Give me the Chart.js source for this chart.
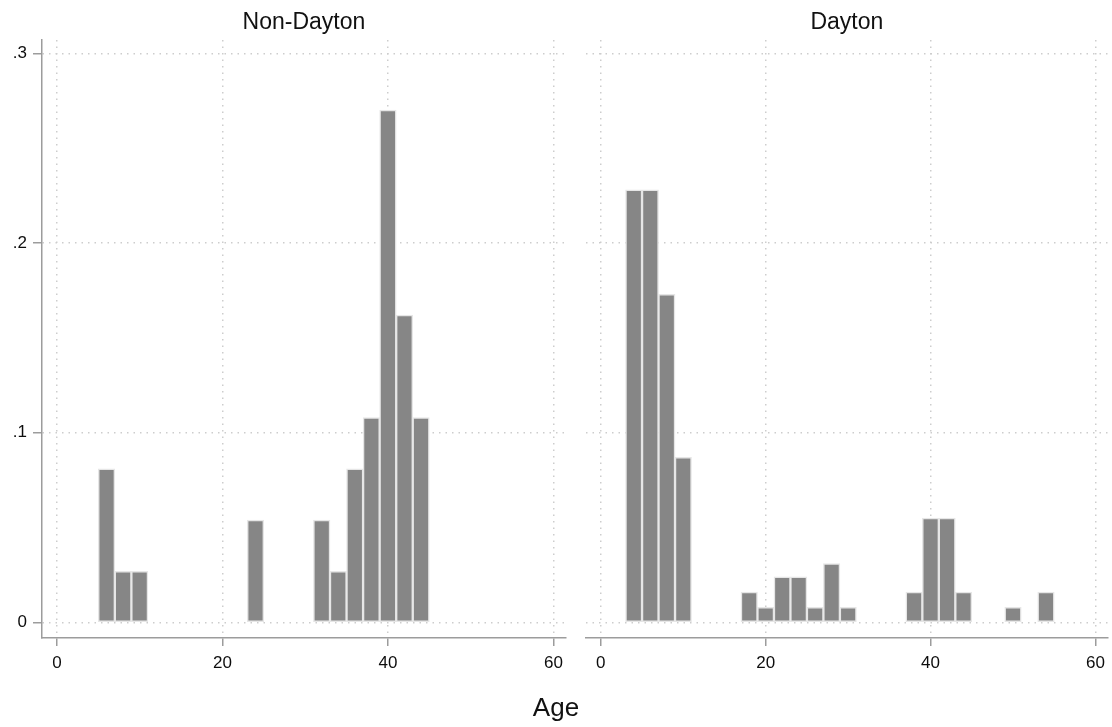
<!DOCTYPE html>
<html>
<head>
<meta charset="utf-8">
<script src="https://cdn.jsdelivr.net/npm/chart.js@4/dist/chart.umd.min.js"></script>
<style>
  body { margin: 0; background: #fff; }
  #wrap { position: relative; width: 1112px; height: 727px; }
  #left { position: absolute; left: 0; top: 0; }
  #right { position: absolute; left: 570px; top: 0; }
  #xtitle {
    position: absolute; left: 0; width: 1112px; top: 692px;
    text-align: center; font: 26px "Liberation Sans", Arial, sans-serif; color: #111;
  }
</style>
</head>
<body>
<div id="wrap">
  <canvas id="left" width="570" height="727"></canvas>
  <canvas id="right" width="542" height="727"></canvas>
  <div id="xtitle">Age</div>
</div>
<script>
const xTickValues = [0, 20, 40, 60];
const yTickValues = [0, 0.1, 0.2, 0.3];
const yTickLabels = ['0', '.1', '.2', '.3'];

// bin centres (bins are 2 years wide) and fraction per bin
const nonDaytonAges = [6, 8, 10, 24, 32, 34, 36, 38, 40, 42, 44];
const nonDaytonFraction = [0.081, 0.027, 0.027, 0.054, 0.054, 0.027, 0.081, 0.108, 0.270, 0.162, 0.108];

const daytonAges = [4, 6, 8, 10, 18, 20, 22, 24, 26, 28, 30, 38, 40, 42, 44, 50, 54];
const daytonFraction = [0.228, 0.228, 0.173, 0.087, 0.016, 0.008, 0.024, 0.024, 0.008, 0.031, 0.008, 0.016, 0.055, 0.055, 0.016, 0.008, 0.016];

const FONT = '"Liberation Sans", Arial, sans-serif';
const gridColor = '#cdcdcd';
const axisColor = '#9c9c9c';

function makePanel(id, title, ages, values, showY, pad) {
  const ctx = document.getElementById(id).getContext('2d');
  return new Chart(ctx, {
    type: 'bar',
    data: {
      datasets: [{
        data: ages.map((a, i) => ({ x: a, y: values[i] })),
        backgroundColor: '#868686',
        borderColor: '#e6e6e6',
        borderWidth: 1.5,
        borderSkipped: false,
        barPercentage: 1,
        categoryPercentage: 1
      }]
    },
    options: {
      responsive: false,
      animation: false,
      layout: { padding: pad },
      plugins: {
        legend: { display: false },
        tooltip: { enabled: false },
        title: {
          display: true,
          text: title,
          fullSize: false,
          color: '#111',
          font: { family: FONT, size: 23, weight: 'normal', lineHeight: 1.2 },
          padding: { top: 9, bottom: 3.4 }
        }
      },
      scales: {
        x: {
          type: 'linear',
          offset: false,
          min: -1.8,
          max: 61.5,
          afterBuildTicks: s => { s.ticks = xTickValues.map(v => ({ value: v })); },
          afterFit: s => { s.height = 89; },
          ticks: {
            color: '#0d0d0d',
            font: { family: FONT, size: 17 },
            padding: 7,
            maxRotation: 0
          },
          grid: {
            offset: false,
            color: gridColor,
            lineWidth: 1.5,
            tickLength: 8,
            tickColor: axisColor,
            tickWidth: 1.5
          },
          // dash applies to the dotted grid lines; the axis line itself stays solid
          border: { display: true, color: axisColor, width: 1.5, dash: [1.5, 5] }
        },
        y: {
          min: -0.0082,
          max: 0.307,
          afterBuildTicks: s => { s.ticks = yTickValues.map(v => ({ value: v })); },
          afterFit: s => { s.width = showY ? 42 : 0; },
          ticks: {
            display: showY,
            color: '#0d0d0d',
            font: { family: FONT, size: 17 },
            padding: 6,
            callback: (v, i) => yTickLabels[i]
          },
          grid: {
            color: gridColor,
            lineWidth: 1.5,
            drawTicks: showY,
            tickLength: 9,
            tickColor: axisColor,
            tickWidth: 1.5
          },
          border: { display: showY, color: axisColor, width: 1.5, dash: [1.5, 5] }
        }
      }
    }
  });
}

makePanel('left', 'Non-Dayton', nonDaytonAges, nonDaytonFraction, true, { left: 0, right: 4, top: 0, bottom: 0 });
makePanel('right', 'Dayton', daytonAges, daytonFraction, false, { left: 16, right: 2, top: 0, bottom: 0 });
</script>
</body>
</html>
